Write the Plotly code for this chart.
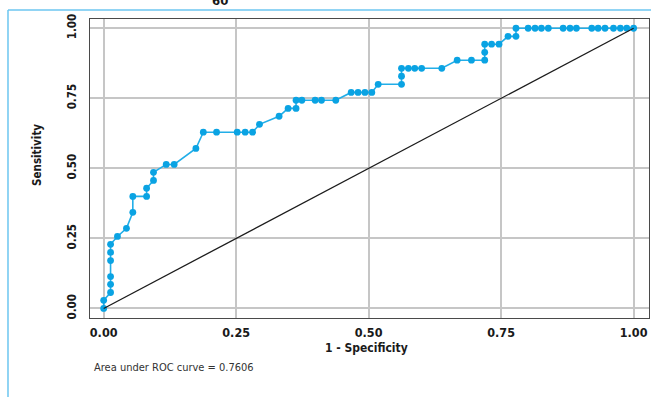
import plotly.graph_objects as go

# ROC curve points (1 - specificity, sensitivity)
one_minus_spec = [
    0.000, 0.000, 0.013, 0.013, 0.013, 0.013, 0.013, 0.013, 0.026, 0.043,
    0.055, 0.055, 0.081, 0.081, 0.094, 0.094, 0.118, 0.133, 0.174, 0.188,
    0.213, 0.252, 0.267, 0.281, 0.294, 0.331, 0.348, 0.363, 0.363, 0.374,
    0.399, 0.411, 0.438, 0.467, 0.480, 0.493, 0.506, 0.518, 0.562, 0.562,
    0.562, 0.575, 0.587, 0.600, 0.638, 0.667, 0.694, 0.719, 0.719, 0.719,
    0.732, 0.746, 0.763, 0.778, 0.778, 0.801, 0.814, 0.826, 0.839, 0.867,
    0.880, 0.892, 0.921, 0.933, 0.946, 0.962, 0.975, 0.987, 1.000,
]
sensitivity = [
    0.000, 0.029, 0.057, 0.086, 0.114, 0.171, 0.200, 0.229, 0.257, 0.286,
    0.343, 0.400, 0.400, 0.429, 0.457, 0.486, 0.514, 0.514, 0.571, 0.629,
    0.629, 0.629, 0.629, 0.629, 0.657, 0.686, 0.714, 0.714, 0.743, 0.743,
    0.743, 0.743, 0.743, 0.771, 0.771, 0.771, 0.771, 0.800, 0.800, 0.829,
    0.857, 0.857, 0.857, 0.857, 0.857, 0.886, 0.886, 0.886, 0.914, 0.943,
    0.943, 0.943, 0.971, 0.971, 1.000, 1.000, 1.000, 1.000, 1.000, 1.000,
    1.000, 1.000, 1.000, 1.000, 1.000, 1.000, 1.000, 1.000, 1.000,
]

# chance line
ref_x = [0, 1]
ref_y = [0, 1]

tick_vals = [0, 0.25, 0.5, 0.75, 1]
tick_text = ["0.00", "0.25", "0.50", "0.75", "1.00"]

auc_label = "Area under ROC curve = 0.7606"

FONT = "DejaVu Sans Condensed, Liberation Sans Narrow, DejaVu Sans, sans-serif"


def cfont(size, color="#1a1a1a", weight="normal"):
    return dict(family=FONT, size=size, color=color, weight=weight)


fig = go.Figure()
fig.add_trace(go.Scatter(
    x=one_minus_spec, y=sensitivity, mode="lines+markers",
    line=dict(color="#22aee8", width=1.6),
    marker=dict(color="#0aa3e3", size=6.8, line=dict(width=0)),
    hoverinfo="skip", showlegend=False,
))
fig.add_trace(go.Scatter(
    x=ref_x, y=ref_y, mode="lines",
    line=dict(color="#1c1c1c", width=1.3),
    hoverinfo="skip", showlegend=False,
))

axis_common = dict(
    tickvals=tick_vals, ticktext=tick_text,
    showgrid=True, gridcolor="#c6c6c6", gridwidth=1.6,
    zeroline=False,
    showline=True, mirror=True, linecolor="#4a4a4a", linewidth=1,
    ticks="outside", tickcolor="rgba(0,0,0,0)",
)

fig.update_layout(
    width=651, height=397,
    margin=dict(l=90, r=2, t=19, b=79),
    paper_bgcolor="white", plot_bgcolor="white",
    font=cfont(12),
    xaxis=dict(range=[-0.0258, 1.029], ticklen=3,
               tickfont=cfont(12.5, weight="bold"), **axis_common),
    yaxis=dict(range=[-0.034, 1.033], tickangle=-90, ticklen=8,
               tickfont=cfont(11.5, weight="bold"), **axis_common),
)

annotations = [
    dict(text="1 - Specificity", x=0.495, y=-0.101, xref="paper", yref="paper",
         showarrow=False, xanchor="center", yanchor="middle",
         font=cfont(12, weight="bold")),
    dict(text="Sensitivity", x=-0.095, y=0.545, xref="paper", yref="paper",
         showarrow=False, textangle=-90, xanchor="center", yanchor="middle",
         font=cfont(11.5, weight="bold")),
    dict(text=auc_label, x=0.0036, y=-0.167, xref="paper", yref="paper",
         showarrow=False, xanchor="left", yanchor="middle",
         font=cfont(11, color="#333333")),
    dict(text="60", x=(220 - 90) / 559, y=1.0635, xref="paper", yref="paper",
         showarrow=False, xanchor="center", yanchor="middle",
         font=cfont(13, weight="bold")),
]
fig.update_layout(annotations=annotations)

# light-blue panel frame (top and left edges)
frame_color = "#6cc6f0"
fig.add_shape(type="line", xref="paper", yref="paper",
              x0=-0.1467, x1=1.01, y0=1.030, y1=1.030,
              line=dict(color=frame_color, width=1.5))
fig.add_shape(type="line", xref="paper", yref="paper",
              x0=-0.1467, x1=-0.1467, y0=1.030, y1=-0.30,
              line=dict(color=frame_color, width=1.5))

fig.write_html("out.html")
